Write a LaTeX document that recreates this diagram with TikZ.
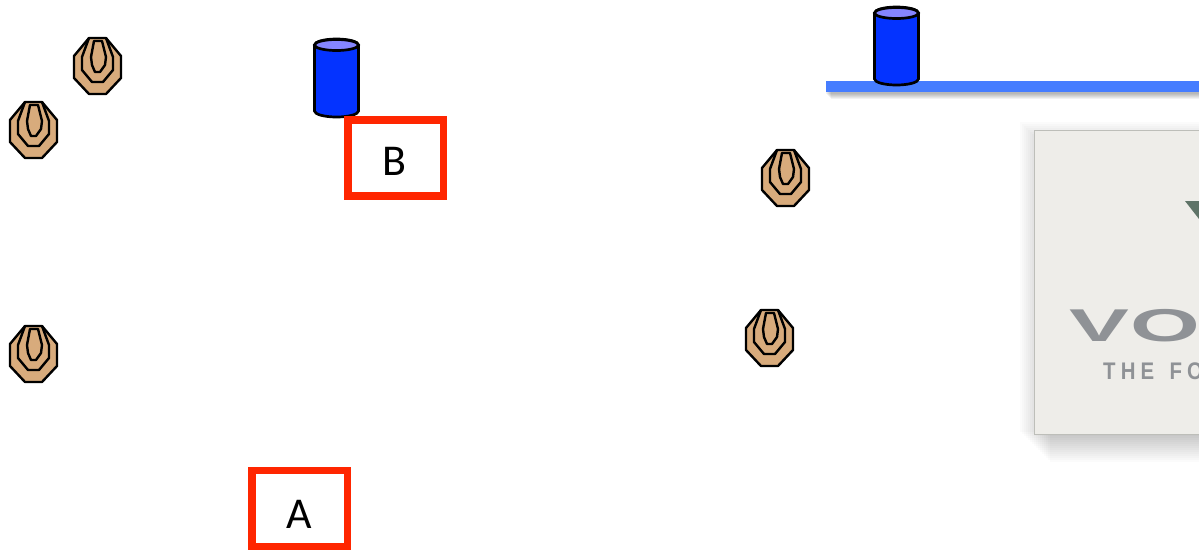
\documentclass[tikz,border=0pt]{standalone}
\usepackage{fontspec}
\setmainfont{Carlito}
\newfontfamily\logofont{Liberation Sans}
\usetikzlibrary{calc}
\definecolor{cylblue}{HTML}{0433FF}
\definecolor{cyltop}{HTML}{8585FF}
\definecolor{tan}{HTML}{D8AB7C}
\definecolor{redbox}{HTML}{FF2600}
\definecolor{barblue}{HTML}{467DFF}
\definecolor{cardfill}{HTML}{EEEDE9}
\definecolor{cardedge}{HTML}{BDBEB9}
\definecolor{logogrey}{HTML}{8F9296}
\definecolor{logogreen}{HTML}{5F7468}
\tikzset{
  x=1pt,y=-1pt,
  markerline/.style={draw=black,line width=2.4pt,line join=round},
  redframe/.style={draw=redbox,line width=7.5pt,fill=none,minimum width=95.5pt,minimum height=76pt,inner sep=0pt},
  pics/target/.style={code={
    \path[markerline,fill=tan] (-9,-28)--(8,-28)--(23,-10)--(23,12)--(8,28)--(-9,28)--(-24,12)--(-24,-10)--cycle;
    \path[markerline] (-9,-28)--(-16,-9)--(-16,4)--(-6,16)--(5,16)--(15,4)--(15,-9)--(8,-28);
    \path[markerline] (-4,-25)--(4,-25)--(8,-9)--(7,-1)--(2,6)--(-3,6)--(-6,-1)--(-7,-9)--cycle;
  }},
  pics/drum/.style={code={
    \path[draw=black,line width=2.7pt,fill=cylblue] (-22,-33) -- (-22,33) arc[start angle=180,end angle=0,x radius=22,y radius=6] -- (22,-33) arc[start angle=0,end angle=-180,x radius=22,y radius=6] -- cycle;
    \path[draw=black,line width=2.7pt,fill=cyltop] (0,-33) ellipse[x radius=22,y radius=5.5];
  }}
}
\begin{document}
\begin{tikzpicture}
\useasboundingbox (0,0) rectangle (1199,552);
\clip (0,0) rectangle (1199,552);
\fill[white] (0,0) rectangle (1199,552);
% bar shadow
\foreach \d in {0,1,2,3,4,5}{
  \fill[black,opacity=0.05] ({826+\d},{86+\d}) rectangle (1199,{94+\d});
}
\fill[barblue] (826,81) rectangle (1199,92);
% card shadow
\foreach \d in {0,2,...,30}{
  \fill[black,opacity=0.016] ({1034+\d-14},{130+\d-8}) rectangle (1199,{434+\d-2});
}
\node[draw=cardedge,line width=1.2pt,fill=cardfill,anchor=north west,minimum width=190pt,minimum height=304pt,inner sep=0pt] (card) at (1034,130) {};
\fill[logogreen] (1185,201) -- (1199,201) -- (1199,219) -- cycle;
\node[anchor=west,inner sep=0pt,text=logogrey] (vo) at (1069,326) {\logofont\fontsize{46}{46}\selectfont\scalebox{1.95}[1]{\textbf{V}\kern1pt\textbf{O}}};
\node[anchor=west,inner sep=0pt,text=logogrey] (fo) at (1103,371) {\logofont\bfseries\fontsize{24}{24}\selectfont\scalebox{0.85}[1]{T\kern6pt H\kern6pt E\kern18pt F\kern6pt O}};
% targets
\pic at (98,66) {target};
\pic at (34,130) {target};
\pic at (34,354) {target};
\pic at (786,178) {target};
\pic at (770,338) {target};
% cylinders
\pic at (336.5,78) {drum};
\pic at (896.5,46) {drum};
% red boxes
\node[redframe] (boxB) at (395.5,158) {};
\node[font=\fontsize{44}{44}\selectfont,inner sep=0pt] (labelB) at (394,161) {B};
\node[redframe] (boxA) at (299.5,508.5) {};
\node[font=\fontsize{44}{44}\selectfont,inner sep=0pt] (labelA) at (299,514) {A};
\end{tikzpicture}
\end{document}
